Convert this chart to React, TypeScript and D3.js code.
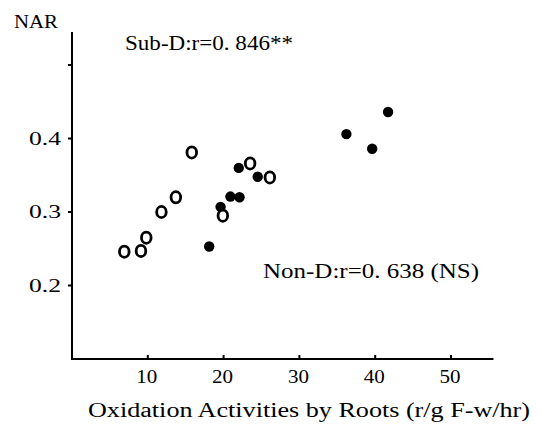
import React from "react";
import * as d3 from "d3";

const subD_x = [6.9, 9.1, 9.8, 11.8, 13.7, 15.8, 19.9, 23.5, 26.1];
const subD_y = [0.246, 0.247, 0.265, 0.3, 0.32, 0.381, 0.295, 0.366, 0.347];
const nonD_x = [18.1, 19.6, 20.9, 22.1, 22.0, 24.5, 36.2, 39.6, 41.7];
const nonD_y = [0.253, 0.307, 0.321, 0.32, 0.36, 0.348, 0.406, 0.386, 0.436];
const xTicks = [10, 20, 30, 40, 50];
const yTicks = [0.2, 0.3, 0.4, 0.5];
const yTickLabels = ["0.2", "0.3", "0.4", ""];

const W = 547, H = 427;

export default function App() {
  const x = d3.scaleLinear().domain([0, 50]).range([72, 451]);
  const y = d3.scaleLinear().domain([0.1, 0.5]).range([359, 65]);
  const font = "'Liberation Serif', 'DejaVu Serif', serif";
  const xEnd = x(55.6);
  const yTop = y(0.545);
  return (
    <svg width={W} height={H} style={{ position: "absolute", left: 0, top: 0, background: "#fff" }} fontFamily={font}>
      <rect width={W} height={H} fill="#fff" />
      {/* axes */}
      <line x1={x(0)} y1={y(0.1)} x2={x(0)} y2={yTop} stroke="#000" strokeWidth={2} />
      <line x1={x(0) - 1} y1={y(0.1)} x2={xEnd} y2={y(0.1)} stroke="#000" strokeWidth={2} />
      {yTicks.map((t, i) => (
        <g key={"yt" + t}>
          <line x1={x(0) - 4} x2={x(0)} y1={y(t)} y2={y(t)} stroke="#000" strokeWidth={2} />
          {yTickLabels[i] && (
            <text x={61} y={y(t) + 6} textAnchor="end" fontSize={19} textLength={32} lengthAdjust="spacingAndGlyphs">
              {yTickLabels[i]}
            </text>
          )}
        </g>
      ))}
      {xTicks.map((t) => (
        <g key={"xt" + t}>
          <line x1={x(t)} x2={x(t)} y1={y(0.1)} y2={y(0.1) - 4} stroke="#000" strokeWidth={2} />
          <text x={x(t) - 1} y={383} textAnchor="middle" fontSize={19} textLength={21} lengthAdjust="spacingAndGlyphs">
            {t}
          </text>
        </g>
      ))}
      <text x={14} y={28} fontSize={18} textLength={44} lengthAdjust="spacingAndGlyphs">NAR</text>
      <text x={125} y={50} fontSize={20} textLength={168} lengthAdjust="spacingAndGlyphs">Sub-D:r=0. 846**</text>
      <text x={263} y={278} fontSize={20} textLength={216} lengthAdjust="spacingAndGlyphs">Non-D:r=0. 638 (NS)</text>
      <text x={88} y={417} fontSize={20} textLength={442} lengthAdjust="spacingAndGlyphs">Oxidation Activities by Roots (r/g F-w/hr)</text>
      {/* points */}
      {nonD_x.map((v, i) => (
        <circle key={"n" + i} cx={x(v)} cy={y(nonD_y[i])} r={5.2} fill="#000" />
      ))}
      {subD_x.map((v, i) => (
        <ellipse key={"s" + i} cx={x(v)} cy={y(subD_y[i])} rx={4.8} ry={5.6} fill="#fff" stroke="#000" strokeWidth={2.8} />
      ))}
    </svg>
  );
}
